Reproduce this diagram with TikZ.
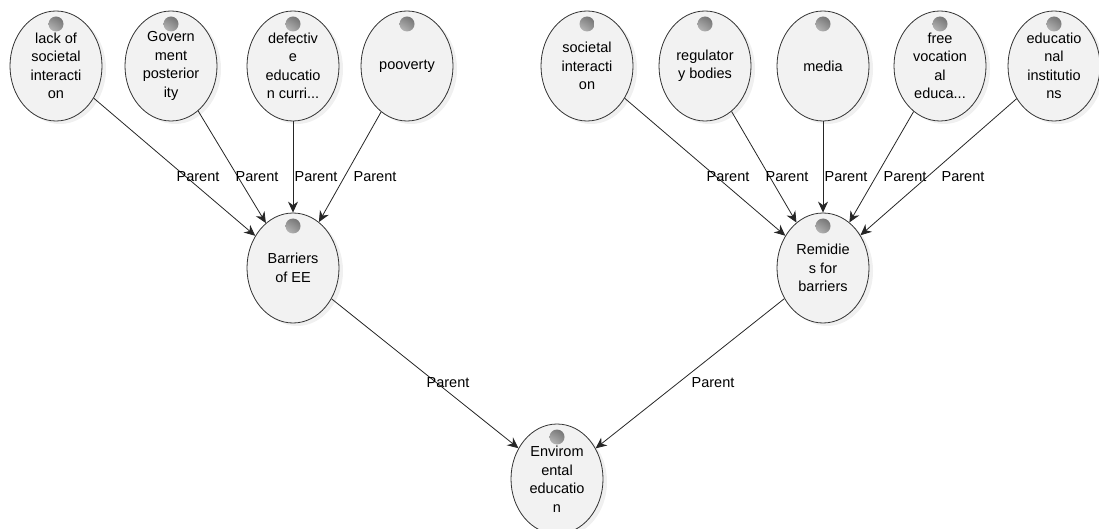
\documentclass[tikz,border=0pt]{standalone}
\usepackage{fontspec}
\setmainfont{Liberation Sans}
\usetikzlibrary{arrows.meta,shapes.geometric,shadows}

\begin{document}
\begin{tikzpicture}[x=1pt,y=-1pt,
  usecase/.style={ellipse, draw=black!80, line width=0.8pt, fill=black!5,
    minimum width=92pt, minimum height=110pt, inner sep=0pt, align=center,
    font=\fontsize{14.5}{18.5}\selectfont,
    drop shadow={opacity=0.12, shadow xshift=4pt, shadow yshift=-3pt},
    path picture={\shade[ball color=black!35] ([yshift=-13pt]path picture bounding box.north) circle (7.5pt);}},
  parent/.style={draw=black!85, line width=0.8pt, -{Stealth[length=11pt, width=10pt]}},
  lbl/.style={font=\fontsize{14.5}{18.5}\selectfont, inner sep=0pt}]
\useasboundingbox (0,0) rectangle (1099,529);

% causes
\node[usecase] (lack) at (56,66) {lack of\\societal\\interacti\\on};
\node[usecase] (govt) at (171,66) {Govern\\ment\\posterior\\ity};
\node[usecase] (defect) at (293,66) {defectiv\\e\\educatio\\n curri...};
\node[usecase] (poverty) at (407,66) {pooverty};

% remedies
\node[usecase] (societal) at (587,66) {societal\\interacti\\on};
\node[usecase] (regul) at (705,66) {regulator\\y bodies};
\node[usecase] (media) at (823,66) {media};
\node[usecase] (vocat) at (940,66) {free\\vocation\\al\\educa...};
\node[usecase] (instit) at (1054,66) {educatio\\nal\\institutio\\ns};

\node[usecase] (barriers) at (293,268) {Barriers\\of EE};
\node[usecase] (remedy) at (823,268) {Remidie\\s for\\barriers};
\node[usecase] (enved) at (557,479) {Envirom\\ental\\educatio\\n};

\draw[parent] (lack) -- (barriers);
\draw[parent] (govt) -- (barriers);
\draw[parent] (defect) -- (barriers);
\draw[parent] (poverty) -- (barriers);
\draw[parent] (societal) -- (remedy);
\draw[parent] (regul) -- (remedy);
\draw[parent] (media) -- (remedy);
\draw[parent] (vocat) -- (remedy);
\draw[parent] (instit) -- (remedy);
\draw[parent] (barriers) -- (enved);
\draw[parent] (remedy) -- (enved);

\node[lbl] (p1) at (198,177) {Parent};
\node[lbl] (p2) at (257,177) {Parent};
\node[lbl] (p3) at (316,177) {Parent};
\node[lbl] (p4) at (375,177) {Parent};
\node[lbl] (p5) at (728,177) {Parent};
\node[lbl] (p6) at (787,177) {Parent};
\node[lbl] (p7) at (846,177) {Parent};
\node[lbl] (p8) at (905,177) {Parent};
\node[lbl] (p9) at (963,177) {Parent};
\node[lbl] (p10) at (448,383) {Parent};
\node[lbl] (p11) at (713,383) {Parent};
\end{tikzpicture}
\end{document}
